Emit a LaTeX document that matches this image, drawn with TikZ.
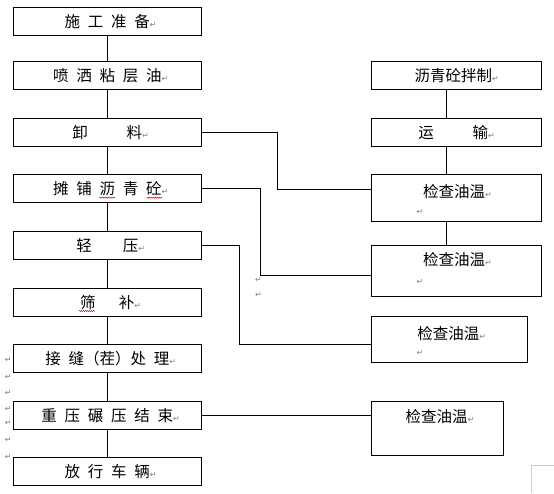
\documentclass[tikz,border=0pt]{standalone}
\usepackage{fontspec}
\newfontfamily\cjkfont{Noto Sans CJK SC}
\newfontfamily\retfont{DejaVu Sans}
\usetikzlibrary{decorations.pathmorphing}
\newcommand\rt{{\retfont\fontsize{8}{8}\selectfont\textcolor{gray}{↵}}}
\newcommand\hs{\hspace{0.5em}}
\begin{document}
\begin{tikzpicture}[x=1pt,y=-1pt,line width=0.9pt,
  cjk/.style={font=\cjkfont\fontsize{15.5}{15.5}\selectfont},
  lbox/.style={draw,cjk,minimum width=188.7pt,minimum height=28pt,inner sep=0pt},
  rbox/.style={draw,cjk,inner sep=0pt},
  txt/.style={cjk,inner sep=0pt},
  retmark/.style={inner sep=0pt},
  squig/.style={red,line width=0.5pt,decorate,decoration={snake,amplitude=0.6pt,segment length=2pt}},
  conn/.style={draw,black}]
\useasboundingbox (0,0) rectangle (554,493);
% left column
\node[lbox] (b1) at (107.3,21.3) {施\hs 工\hs 准\hs 备\rlap{\rt}};
\node[lbox] (b2) at (107.3,75.3) {喷\hs 洒\hs 粘\hs 层\hs 油\rlap{\rt}};
\node[lbox] (b3) at (107.3,132.3) {卸\hspace{2.5em}料\rlap{\rt}};
\node[lbox] (b4) at (107.3,188.8) {摊\hs 铺\hs 沥\hs 青\hs 砼\rlap{\rt}};
\node[lbox] (b5) at (107.3,245.3) {轻\hspace{2em}压\rlap{\rt}};
\node[lbox] (b6) at (107.3,302.3) {筛\hspace{1.5em}补\rlap{\rt}};
\node[lbox] (b7) at (107.3,358.8) {接\hs 缝（茬）处\hs 理\rlap{\rt}};
\node[lbox] (b8) at (107.3,415.5) {重\hs 压\hs 碾\hs 压\hs 结\hs 束\rlap{\rt}};
\node[lbox] (b9) at (107.3,471.5) {放\hs 行\hs 车\hs 辆\rlap{\rt}};
\foreach \i/\j in {1/2,2/3,3/4,4/5,5/6,6/7,7/8,8/9}
  \draw (b\i.south) -- (b\j.north);
% right column
\node[rbox,minimum width=170pt,minimum height=27.6pt] (R1) at (456.7,75.5) {沥青砼拌制\rt};
\node[rbox,minimum width=170pt,minimum height=27.7pt] (R2) at (456.7,132.2) {运\hspace{2.5em}输\rt};
\node[rbox,minimum width=170pt,minimum height=47.7pt] (R3) at (456.7,197.8) {};
\node[rbox,minimum width=170pt,minimum height=51.7pt] (R4) at (456.7,270.8) {};
\node[rbox,minimum width=155.6pt,minimum height=45.6pt] (R5) at (449.5,339.5) {};
\node[rbox,minimum width=131.6pt,minimum height=53.6pt] (R6) at (437.5,428.5) {};
\node[txt] (t3) at (454.2,192) {检查油温\rlap{\rt}};
\node[txt] (t4) at (454.2,260) {检查油温\rlap{\rt}};
\node[txt] (t5) at (448.3,333.3) {检查油温\rlap{\rt}};
\node[txt] (t6) at (436.7,416.7) {检查油温\rlap{\rt}};
\node[retmark] (r3) at (420,212) {\rt};
\node[retmark] (r4) at (420,281.7) {\rt};
\node[retmark] (r5) at (420,353.3) {\rt};
\draw ([xshift=-10pt]R1.south) -- ([xshift=-10pt]R2.north);
\draw ([xshift=-10pt]R2.south) -- ([xshift=-10pt]R3.north);
\draw ([xshift=-10pt]R3.south) -- ([xshift=-10pt]R4.north);
% cross connectors
\coordinate (k3) at (277,189.3);
\coordinate (k4) at (260.5,275);
\coordinate (k5) at (239.3,344.3);
\draw (b3.east) -| (k3) -- (k3 -| R3.west);
\draw (b4.east) -| (k4) -- (k4 -| R4.west);
\draw (b5.east) -| (k5) -- (k5 -| R5.west);
\draw (b8.east) -- (b8.east -| R6.west);
% paragraph marks
\foreach \y [count=\n] in {360,376.7,393.3,409.3,423.3,440,456.7}
  \node[retmark] (m\n) at (8.3,\y) {\rt};
\node[retmark] (m8) at (258.5,280) {\rt};
\node[retmark] (m9) at (258.5,295) {\rt};
% spell-check squiggles
\draw[squig] (99.3,197.7) -- (115,197.7);
\draw[squig] (146.7,197.7) -- (162,197.7);
\draw[squig] (79,311) -- (95,311);
% page corner mark
\draw[gray!40,line width=0.8pt] (531.7,493) -- (531.7,465.7) -- (554,465.7);
\end{tikzpicture}
\end{document}
